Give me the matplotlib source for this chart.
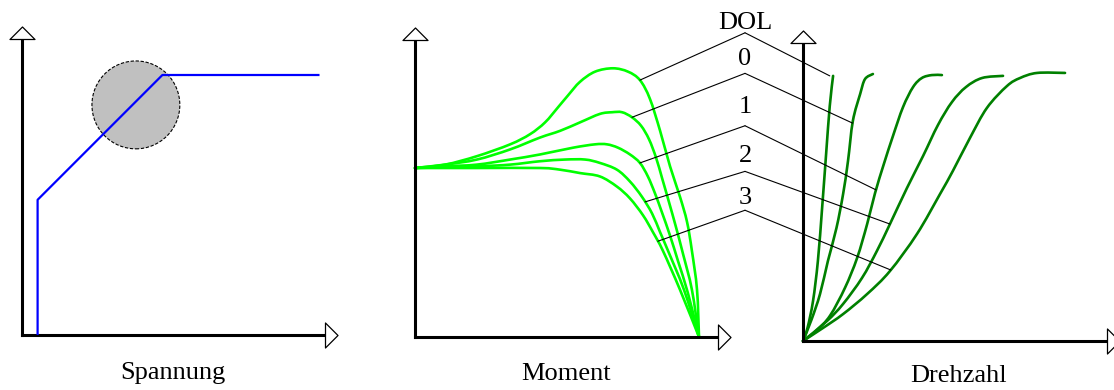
import numpy as np
import matplotlib.pyplot as plt
from matplotlib.patches import Circle, ConnectionPatch, PathPatch
from matplotlib.path import Path

W, H = 1114, 390

# Spannung: voltage ramp of the soft starter
volt_t = [6, 6, 54, 114]
volt_u = [0, 52, 100, 100]
circle_xy = (43.8, 88.5)
circle_r = 16.9

# Moment: torque (p.u.) over speed (%) for DOL and ramp settings 0..3
speed_dol = [0, 10.6, 21.8, 33.5, 40.5, 45.8, 50.4, 53.9, 58.1, 63.4, 69.7, 75.0, 79.2, 82.7, 86.3, 89.8, 93.3, 95.8, 97.5, 99.3, 100]
torque_dol = [1.00, 1.02, 1.07, 1.14, 1.20, 1.27, 1.36, 1.43, 1.51, 1.57, 1.59, 1.57, 1.52, 1.41, 1.22, 1.01, 0.83, 0.68, 0.51, 0.28, 0]
speed_0 = [0, 10.6, 21.8, 33.5, 44.0, 51.1, 58.1, 65.1, 69.4, 72.9, 76.4, 79.6, 82.4, 84.9, 87.0, 89.4, 91.9, 94.4, 97.5, 100]
torque_0 = [1.00, 1.02, 1.05, 1.11, 1.18, 1.22, 1.27, 1.32, 1.33, 1.33, 1.30, 1.25, 1.17, 1.06, 0.94, 0.80, 0.65, 0.49, 0.28, 0]
speed_1 = [0, 10.6, 21.8, 33.5, 44.0, 55.6, 63.4, 67.6, 71.5, 75.7, 79.2, 82.0, 84.5, 86.9, 89.8, 92.6, 96.1, 100]
torque_1 = [1.00, 1.01, 1.02, 1.05, 1.08, 1.12, 1.14, 1.14, 1.12, 1.08, 1.03, 0.95, 0.85, 0.74, 0.60, 0.45, 0.26, 0]
speed_2 = [0, 21.8, 33.5, 44.0, 52.8, 59.9, 65.1, 71.1, 75.7, 79.9, 83.5, 86.3, 89.1, 94.7, 100]
torque_2 = [1.00, 1.01, 1.02, 1.04, 1.05, 1.05, 1.03, 0.99, 0.92, 0.83, 0.73, 0.62, 0.51, 0.28, 0]
speed_3 = [0, 21.8, 44.0, 51.1, 58.1, 65.1, 71.1, 75.7, 80.3, 83.8, 87.3, 93.3, 100]
torque_3 = [1.00, 1.00, 1.00, 0.99, 0.97, 0.95, 0.89, 0.82, 0.72, 0.62, 0.51, 0.28, 0]

# Drehzahl: speed (%) over time for the same settings
time_dol = [0, 1.5, 3.3, 4.9, 6.3, 7.6, 8.8, 9.9]
rpm_dol = [0, 5, 15, 30, 50, 70, 88, 99.3]
time_0 = [0, 2.8, 5.6, 8.2, 11.0, 13.2, 14.8, 16.4, 18.8, 20.4, 23.0]
rpm_0 = [0, 8.0, 17.6, 30.0, 42.3, 55.1, 67.4, 82.4, 92.5, 98.1, 100]
time_1 = [0, 4.5, 8.9, 13.8, 17.8, 21.1, 23.7, 26.6, 29.6, 32.9, 36.2, 39.1, 42.4, 45.7]
rpm_1 = [0, 4.0, 9.5, 19.9, 31.1, 43.8, 55.4, 66.3, 76.8, 87.6, 95.1, 98.5, 99.6, 99.6]
time_2 = [0, 7.9, 13.2, 19.4, 24.3, 28.6, 34.2, 39.5, 44.4, 49.0, 53.6, 58.9, 65.8]
rpm_2 = [0, 7.5, 13.9, 23.6, 33.7, 43.8, 57.3, 69.3, 80.9, 89.5, 95.1, 98.5, 99.3]
time_3 = [0, 6.6, 13.2, 21.1, 28.6, 37.5, 45.1, 49.3, 54.9, 60.5, 67.1, 71.4, 77.0, 86.2]
rpm_3 = [0, 4.9, 10.1, 17.6, 26.2, 40.1, 55.1, 63.7, 76.0, 87.3, 95.5, 98.5, 100.4, 100.4]

labels = ['DOL', '0', '1', '2', '3']
# where each label's leader line meets the torque and speed curves
leader_speed = [79.2, 76.4, 79.2, 81.0, 85.5]
leader_rpm = [99.3, 81.6, 56.6, 43.8, 26.6]
kink_x = 116.2
kink_y = [1.80, 1.56, 1.25, 0.98, 0.75]
label_y = [1.822, 1.609, 1.325, 1.036, 0.787]

torque_curves = [(speed_dol, torque_dol), (speed_0, torque_0), (speed_1, torque_1),
                 (speed_2, torque_2), (speed_3, torque_3)]
rpm_curves = [(time_dol, rpm_dol), (time_0, rpm_0), (time_1, rpm_1),
              (time_2, rpm_2), (time_3, rpm_3)]

head_up = Path([(-1, 0), (1, 0), (0, 1), (-1, 0)], [1, 2, 2, 79])
head_right = Path([(0, -1), (0, 1), (1, 0), (0, -1)], [1, 2, 2, 79])

fig = plt.figure(figsize=(W / 100, H / 100), dpi=100)


def make_axes(x0, y0, x1, y1, xmax, ymax):
    # pixel box: origin (x0, y0), axis ends (x1, y1)
    ax = fig.add_axes([x0 / W, 1 - y0 / H, (x1 - x0) / W, (y0 - y1) / H])
    ax.set_xlim(0, xmax)
    ax.set_ylim(0, ymax)
    ax.set_xticks([])
    ax.set_yticks([])
    ax.patch.set_alpha(0)
    for s in ['top', 'right']:
        ax.spines[s].set_visible(False)
    for s in ['left', 'bottom']:
        ax.spines[s].set_linewidth(2.2)
    ax.plot([xmax], [0], marker=head_right, ms=18, mfc='white', mec='black',
            mew=0.9, clip_on=False, zorder=5)
    ax.plot([0], [ymax], marker=head_up, ms=18, mfc='white', mec='black',
            mew=0.9, clip_on=False, zorder=5)
    return ax


def smooth_curve(ax, x, y, color):
    # Catmull-Rom through the points, drawn as cubic Bezier segments
    p = np.column_stack([x, y]).astype(float)
    n = len(p)
    verts = [p[0]]
    codes = [Path.MOVETO]
    for i in range(n - 1):
        a = p[max(i - 1, 0)]
        d = p[min(i + 2, n - 1)]
        verts += [p[i] + (p[i + 1] - a) / 6, p[i + 1] - (d - p[i]) / 6, p[i + 1]]
        codes += [Path.CURVE4] * 3
    ax.add_patch(PathPatch(Path(verts, codes), fill=False, edgecolor=color,
                           lw=1.9, clip_on=False, capstyle='round'))


ax_u = make_axes(22, 335, 325, 39, 303 / 2.6, 296 / 2.6)
ax_m = make_axes(415, 337, 718, 40, 303 / 2.84, 297 / 169)
ax_n = make_axes(803, 341, 1107, 43, 100, 298 / 2.67)

ax_u.add_patch(Circle(circle_xy, circle_r, facecolor='#c0c0c0', edgecolor='black',
                      lw=0.8, ls=(0, (3, 1.5)), zorder=2))
ax_u.plot(volt_t, volt_u, color='#0000ff', lw=1.6, zorder=3)

for sp, tq in torque_curves:
    smooth_curve(ax_m, sp, tq, '#00ff00')
for tm, n in rpm_curves:
    smooth_curve(ax_n, tm, n, '#008000')

# leader lines from the torque curves over a kink to the speed curves
for i, lab in enumerate(labels):
    sp, tq = torque_curves[i]
    tm, n = rpm_curves[i]
    p_mid = (leader_speed[i], np.interp(leader_speed[i], sp, tq))
    p_kink = (kink_x, kink_y[i])
    p_right = (np.interp(leader_rpm[i], n[:-1], tm[:-1]), leader_rpm[i])
    fig.add_artist(ConnectionPatch(p_mid, p_kink, coordsA=ax_m.transData,
                                   coordsB=ax_m.transData, color='black', lw=0.8))
    fig.add_artist(ConnectionPatch(p_kink, p_right, coordsA=ax_m.transData,
                                   coordsB=ax_n.transData, color='black', lw=0.8))
    ax_m.text(kink_x, label_y[i], lab, ha='center', va='baseline', fontsize=19,
              family='Liberation Serif', clip_on=False)

fig.text(173 / W, 1 - 379 / H, 'Spannung', ha='center', va='baseline',
         fontsize=19, family='Liberation Serif')
fig.text(566 / W, 1 - 380 / H, 'Moment', ha='center', va='baseline',
         fontsize=19, family='Liberation Serif')
fig.text(959 / W, 1 - 382 / H, 'Drehzahl', ha='center', va='baseline',
         fontsize=19, family='Liberation Serif')

fig.savefig('out.png', dpi=100)
